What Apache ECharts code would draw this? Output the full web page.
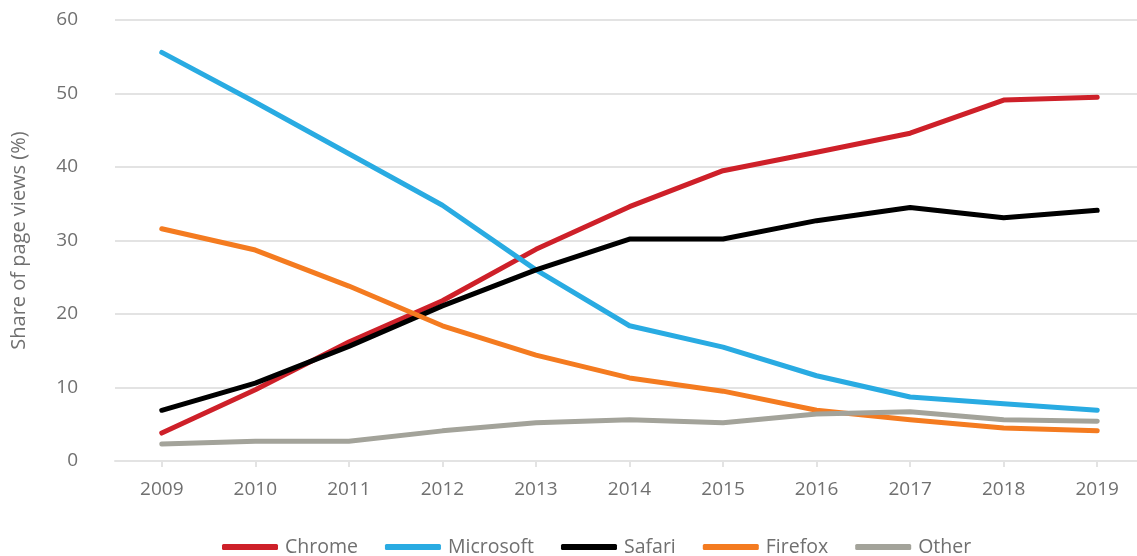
<!DOCTYPE html>
<html><head><meta charset="utf-8">
<script src="https://cdn.jsdelivr.net/npm/echarts@6/dist/echarts.min.js"></script>
<style>html,body{margin:0;padding:0;background:#fff}#c{width:1137px;height:556px}</style>
</head><body><div id="c"></div>
<script>
const years = ['2009','2010','2011','2012','2013','2014','2015','2016','2017','2018','2019'];
const chrome    = [3.8, 9.7, 16.2, 21.8, 28.8, 34.6, 39.5, 42.0, 44.6, 49.1, 49.5];
const microsoft = [55.6, 48.8, 41.8, 34.8, 26.0, 18.4, 15.5, 11.6, 8.7, 7.8, 6.9];
const safari    = [6.9, 10.6, 15.6, 21.1, 26.0, 30.2, 30.2, 32.7, 34.5, 33.1, 34.1];
const firefox   = [31.6, 28.7, 23.8, 18.4, 14.4, 11.3, 9.5, 6.9, 5.6, 4.5, 4.1];
const other     = [2.3, 2.7, 2.7, 4.1, 5.2, 5.6, 5.2, 6.4, 6.7, 5.6, 5.4];
const seriesNames = ['Chrome','Microsoft','Safari','Firefox','Other'];
const colors = ['#CE2029','#29ABE2','#000000','#F47B20','#A3A39A'];
const seriesData = [chrome, microsoft, safari, firefox, other];

const font = '"Open Sans", Lato, sans-serif';
const txt = '#707070';
const chart = echarts.init(document.getElementById('c'));
chart.setOption({
  animation: false,
  grid: { left: 115, top: 20, width: 1029, height: 441, containLabel: false, outerBoundsMode: 'none' },
  legend: {
    top: 532, left: 217,
    itemWidth: 56, itemHeight: 6, itemGap: 27,
    icon: 'roundRect',
    textStyle: { fontFamily: font, fontSize: 19.5, color: txt, padding: [0, 0, 0, 2] },
    data: seriesNames
  },
  xAxis: {
    type: 'category', data: years, boundaryGap: true,
    axisLine: { show: true, lineStyle: { color: '#e3e3e3', width: 2 } },
    axisTick: { show: true, alignWithLabel: true, length: 6, lineStyle: { color: '#e3e3e3', width: 2 } },
    axisLabel: { fontFamily: font, fontSize: 19, color: txt, margin: 19 }
  },
  yAxis: {
    type: 'value', min: 0, max: 60, interval: 10,
    name: 'Share of page views (%)', nameLocation: 'middle', nameGap: 86,
    nameTextStyle: { fontFamily: font, fontSize: 20, color: txt },
    axisLine: { show: false }, axisTick: { show: false },
    axisLabel: { fontFamily: font, fontSize: 19, color: txt, margin: 37 },
    splitLine: { lineStyle: { color: '#e3e3e3', width: 2 } }
  },
  series: seriesNames.map((n, i) => ({
    name: n, type: 'line', data: seriesData[i],
    symbol: 'none', color: colors[i],
    lineStyle: { width: 5, color: colors[i], cap: 'round', join: 'round' }
  }))
});
</script></body></html>
